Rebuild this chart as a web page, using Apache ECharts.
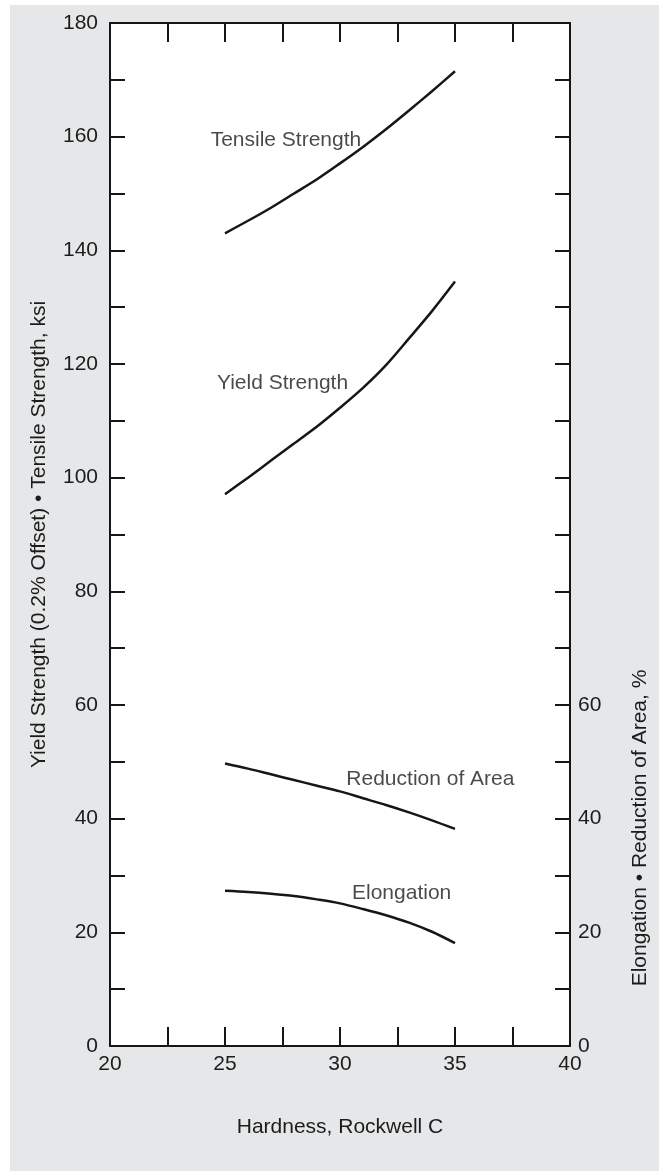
<!DOCTYPE html>
<html>
<head>
<meta charset="utf-8">
<title>Hardness vs strength</title>
<script src="https://cdn.jsdelivr.net/npm/echarts@6/dist/echarts.min.js"></script>
<style>
  html, body { margin: 0; padding: 0; background: #fff; }
  #chart { position: absolute; left: 10px; top: 5px; width: 649px; height: 1166px; }
</style>
</head>
<body>
<div id="chart"></div>
<script>
// hardness, Rockwell C
const hardness = [25, 26, 27, 28, 29, 30, 31, 32, 33, 34, 35]

// ksi (left axis)
const tensileStrength = [143, 145.2, 147.5, 150, 152.5, 155.3, 158.2, 161.3, 164.6, 168, 171.5]
const yieldStrength = [97.1, 100, 103, 106, 109, 112.3, 115.8, 119.8, 124.5, 129.3, 134.5]

// % (right axis, same scale)
const reductionOfArea = [49.7, 48.8, 47.8, 46.8, 45.8, 44.8, 43.6, 42.4, 41.1, 39.7, 38.2]
const elongation = [27.3, 27.1, 26.8, 26.4, 25.8, 25.1, 24.1, 23.0, 21.7, 20.1, 18.1]

// curve captions, placed in data coordinates
const captionText = ['Tensile Strength', 'Yield Strength', 'Reduction of Area', 'Elongation']
const captionX = [27.65, 27.5, 33.93, 32.68]
const captionY = [159.4, 116.7, 47.0, 26.9]

const font = '"Liberation Sans", Arial, Helvetica, sans-serif'
const ink = '#161616'
const textInk = '#1c1c1c'

const chart = echarts.init(document.getElementById('chart'))

const pairs = ys => hardness.map((x, i) => [x, ys[i]])

function curve(name, ys, yAxisIndex) {
  return {
    name,
    type: 'line',
    xAxisIndex: 0,
    yAxisIndex,
    data: pairs(ys),
    smooth: 0.3,
    symbol: 'none',
    lineStyle: { color: ink, width: 2.5 },
    silent: true,
  }
}

const xBase = {
  type: 'value',
  min: 20,
  max: 40,
  interval: 2.5,
  splitLine: { show: false },
  axisLine: { show: true, onZero: false, lineStyle: { color: ink, width: 2 } },
  axisTick: { show: true, inside: true, length: 19, lineStyle: { color: ink, width: 2 } },
}

const yBase = {
  type: 'value',
  min: 0,
  max: 180,
  interval: 10,
  splitLine: { show: false },
  axisLine: { show: true, onZero: false, lineStyle: { color: ink, width: 2 } },
  axisTick: { show: true, inside: true, length: 15, lineStyle: { color: ink, width: 2 } },
}

chart.setOption({
  backgroundColor: '#e6e7e8',
  animation: false,
  textStyle: { fontFamily: font },
  grid: {
    left: 100, right: 89, top: 18, bottom: 125,
    show: true, backgroundColor: '#fff', borderWidth: 0,
  },
  xAxis: [
    {
      ...xBase,
      position: 'bottom',
      name: 'Hardness, Rockwell C',
      nameLocation: 'middle',
      nameGap: 71,
      nameTextStyle: { color: textInk, fontSize: 21, fontFamily: font },
      axisLabel: {
        color: textInk, fontSize: 21, fontFamily: font, margin: 8,
        formatter: v => (v % 5 === 0 ? String(v) : ''),
      },
    },
    {
      ...xBase,
      position: 'top',
      axisLabel: { show: false },
    },
  ],
  yAxis: [
    {
      ...yBase,
      position: 'left',
      name: 'Yield Strength (0.2% Offset) \u2022 Tensile Strength, ksi',
      nameLocation: 'middle',
      nameGap: 60,
      nameTextStyle: { color: textInk, fontSize: 21, fontFamily: font },
      axisLabel: {
        color: textInk, fontSize: 21, fontFamily: font, margin: 12,
        formatter: v => (v % 20 === 0 ? String(v) : ''),
      },
    },
    {
      ...yBase,
      position: 'right',
      axisLabel: {
        color: textInk, fontSize: 21, fontFamily: font, margin: 8,
        formatter: v => (v % 20 === 0 && v <= 60 ? String(v) : ''),
      },
    },
  ],
  graphic: [
    {
      type: 'text',
      x: 630,
      y: 823,
      rotation: Math.PI / 2,
      style: {
        text: 'Elongation \u2022 Reduction of Area, %',
        fill: textInk,
        font: '21px ' + font,
        align: 'center',
        verticalAlign: 'middle',
      },
    },
  ],
  series: [
    curve('Tensile Strength', tensileStrength, 0),
    curve('Yield Strength', yieldStrength, 0),
    curve('Reduction of Area', reductionOfArea, 1),
    curve('Elongation', elongation, 1),
    {
      name: 'captions',
      type: 'scatter',
      xAxisIndex: 0,
      yAxisIndex: 0,
      silent: true,
      symbolSize: 1,
      itemStyle: { color: 'rgba(0,0,0,0)' },
      data: captionText.map((t, i) => [captionX[i], captionY[i], t]),
      label: {
        show: true,
        position: 'inside',
        formatter: p => p.data[2],
        color: textInk,
        fontSize: 21,
        fontFamily: font,
      },
    },
  ],
})
</script>
</body>
</html>
